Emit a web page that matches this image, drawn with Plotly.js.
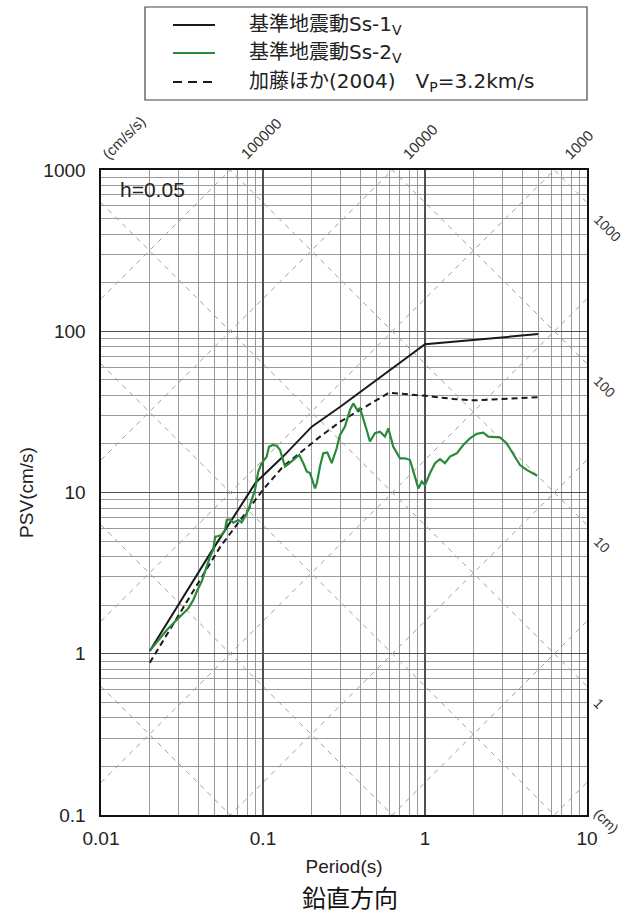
<!DOCTYPE html>
<html><head><meta charset="utf-8">
<script src="https://cdn.plot.ly/plotly-3.0.1.min.js"></script>
<style>html,body{margin:0;padding:0;background:#fff}#chart{width:624px;height:914px}</style>
</head><body><div id="chart"></div>
<script>
// ---- data ----
const periodSs1 = [0.02, 0.048, 0.09, 0.133, 0.2, 0.3, 1.0, 5.0];
const psvSs1    = [1.04, 4.3, 11.5, 16.7, 25.6, 34, 83, 96];

const periodSs2 = [0.0201,0.0254,0.030,0.0346,0.0371,0.039,0.0418,0.0449,0.0471,0.0493,0.0506,0.053,0.0555,0.0583,0.0597,0.0626,0.0656,0.0704,0.0738,0.0774,0.0811,0.0851,0.0893,0.0935,0.0981,0.1054,0.1089,0.1148,0.1214,0.1273,0.1367,0.1433,0.1538,0.1675,0.1774,0.1862,0.195,0.2045,0.2095,0.215,0.2248,0.2355,0.2496,0.2655,0.285,0.2985,0.3206,0.3443,0.3606,0.382,0.3973,0.4365,0.457,0.491,0.527,0.566,0.594,0.637,0.701,0.753,0.808,0.867,0.91,0.955,1.0,1.074,1.153,1.238,1.328,1.426,1.57,1.722,1.895,2.085,2.29,2.46,2.64,2.9,3.19,3.51,3.86,4.24,4.93];
const psvSs2    = [1.05,1.40,1.66,1.91,2.15,2.43,2.8,3.47,4.0,4.4,5.3,5.37,5.45,5.85,6.75,6.8,6.5,6.75,6.53,7.08,7.79,8.98,10.4,13.5,15.2,16.7,19.2,19.7,19.5,18.4,14.5,15.0,15.9,17.1,15.2,13.5,13.2,11.4,10.6,11.4,14.5,17.5,17.7,15.2,18.8,22.7,25.6,32.5,35.7,32.5,33.3,24.4,20.7,23.3,23.8,22.2,25.0,19.2,16.3,16.3,15.9,12.5,10.6,11.7,11.1,13.2,15.2,16.1,15.2,16.7,17.5,19.7,21.7,23.1,23.5,22.2,22.2,22.0,20.2,17.1,14.8,13.8,12.7];

const periodKato = [0.02, 0.0544, 0.1, 0.133, 0.225, 0.3, 0.6, 1.0, 1.5, 2.0, 3.0, 5.0];
const psvKato    = [0.88, 4.6, 10.4, 14.5, 22.2, 27.5, 41.6, 39.8, 38.0, 37.3, 38.0, 39.0];

const seriesNames = ['基準地震動Ss-1<sub>V</sub>', '基準地震動Ss-2<sub>V</sub>', '加藤ほか(2004)　V<sub>P</sub>=3.2km/s'];

// tripartite reference lines
const accelLevels = [0.1, 1, 10, 100, 1000, 10000, 100000];   // cm/s/s
const dispLevels  = [0.001, 0.01, 0.1, 1, 10, 100, 1000];     // cm
const accelLabelLevels = [100000, 10000, 1000];
const accelLabelText   = ['100000', '10000', '1000'];
const dispLabelLevels  = [1000, 100, 10, 1];
const dispLabelText    = ['1000', '100', '10', '1'];

const xTickVals = [0.01, 0.1, 1, 10];
const xTickText = ['0.01', '0.1', '1', '10'];
const yTickVals = [0.1, 1, 10, 100, 1000];
const yTickText = ['0.1', '1', '10', '100', '1000'];

// ---- build ----
const xRange = [-2, 1], yRange = [-1, 3];
const Tmin = Math.pow(10, xRange[0]), Tmax = Math.pow(10, xRange[1]);
const TWO_PI = 2 * Math.PI;
const diagStyle = {color: '#a0a0a0', width: 1, dash: '5px,5px'};
const traces = [];
accelLevels.forEach(sa => traces.push({
  type: 'scatter', mode: 'lines', x: [Tmin, Tmax], y: [sa * Tmin / TWO_PI, sa * Tmax / TWO_PI],
  line: diagStyle, hoverinfo: 'skip', showlegend: false
}));
dispLevels.forEach(sd => traces.push({
  type: 'scatter', mode: 'lines', x: [Tmin, Tmax], y: [TWO_PI * sd / Tmin, TWO_PI * sd / Tmax],
  line: diagStyle, hoverinfo: 'skip', showlegend: false
}));
const seriesStyles = [
  {color: '#1a1a1a', width: 2},
  {color: '#2a8a3c', width: 2.2},
  {color: '#1a1a1a', width: 2, dash: '6px,4px'}
];
traces.push({type: 'scatter', mode: 'lines', name: seriesNames[0], x: periodSs1, y: psvSs1, line: seriesStyles[0], showlegend: false});
traces.push({type: 'scatter', mode: 'lines', name: seriesNames[2], x: periodKato, y: psvKato, line: seriesStyles[2], showlegend: false});
traces.push({type: 'scatter', mode: 'lines', name: seriesNames[1], x: periodSs2, y: psvSs2, line: seriesStyles[1], showlegend: false});

const numFamily = 'Liberation Sans, Arial, sans-serif';
const numFont = {family: numFamily, size: 19, color: '#222'};
const jpFont = {family: 'DejaVu Sans, Noto Sans CJK JP, sans-serif', size: 20, color: '#222'};

const annotations = [];
const shapes = [];
// legend (manual box)
const L = 101, R = 587, T = 170, B = 815, W = R - L, H = B - T;
const px = v => (v - L) / W, py = v => (B - v) / H;
shapes.push({type: 'rect', xref: 'paper', yref: 'paper', x0: px(145), x1: px(587), y0: py(100), y1: py(7),
  line: {color: '#444', width: 1.2}, fillcolor: 'rgba(0,0,0,0)'});
const legendRowsY = [25, 53, 82];
const legendOrder = [0, 1, 2];
legendOrder.forEach((k, i) => {
  shapes.push({type: 'line', xref: 'paper', yref: 'paper', x0: px(173), x1: px(215), y0: py(legendRowsY[i]), y1: py(legendRowsY[i]),
    line: k === 2 ? {color: '#1a1a1a', width: 2, dash: '9px,6px'} : seriesStyles[k]});
  annotations.push({xref: 'paper', yref: 'paper', x: px(247), y: py(legendRowsY[i]), xanchor: 'left', yanchor: 'middle',
    text: seriesNames[k], showarrow: false, font: jpFont});
});
// damping label
annotations.push({xref: 'paper', yref: 'paper', x: px(118), y: py(189), xanchor: 'left', yanchor: 'middle',
  text: 'h=0.05', showarrow: false, font: {family: numFamily, size: 21, color: '#222'}});
// acceleration labels along the top
const diagFont = {family: numFamily, size: 15, color: '#333'};
const diagFontR = {family: numFamily, size: 14, color: '#333'};
accelLabelLevels.forEach((sa, i) => annotations.push({
  xref: 'x', yref: 'paper', x: Math.log10(TWO_PI * Math.pow(10, yRange[1]) / sa), y: 1,
  xanchor: 'left', yanchor: 'bottom', xshift: 4, yshift: 5, textangle: -45,
  text: accelLabelText[i], showarrow: false, font: diagFont}));
annotations.push({xref: 'paper', yref: 'paper', x: px(96), y: 1, xanchor: 'left', yanchor: 'bottom', yshift: 5, textangle: -45,
  text: '(cm/s/s)', showarrow: false, font: diagFont});
// displacement labels along the right
dispLabelLevels.forEach((sd, i) => annotations.push({
  xref: 'paper', yref: 'y', x: 1, y: Math.log10(TWO_PI * sd / Tmax),
  xanchor: 'left', yanchor: 'top', xshift: 1, yshift: -6, textangle: 45,
  text: dispLabelText[i], showarrow: false, font: diagFontR}));
annotations.push({xref: 'paper', yref: 'paper', x: 1, y: 0, xanchor: 'left', yanchor: 'top', xshift: 1, yshift: 12, textangle: 45,
  text: '(cm)', showarrow: false, font: diagFontR});

const axisCommon = {
  type: 'log', showline: true, linecolor: '#111', linewidth: 1.6, mirror: true,
  showgrid: true, gridcolor: '#505050', gridwidth: 1.3, zeroline: false,
  ticks: '', tickfont: numFont,
  minor: {dtick: 'D1', showgrid: true, gridcolor: '#8e8e8e', gridwidth: 0.9, ticks: ''}
};

const layout = {
  width: 624, height: 914,
  margin: {l: L, r: 624 - R, t: T, b: 914 - B},
  paper_bgcolor: '#fff', plot_bgcolor: '#fff',
  showlegend: false,
  title: {text: '鉛直方向', font: {family: 'Noto Sans CJK JP, sans-serif', size: 24, color: '#111'},
    xref: 'container', yref: 'container', x: 350 / 624, y: 1 - 899 / 914, xanchor: 'center', yanchor: 'middle'},
  xaxis: Object.assign({}, axisCommon, {range: xRange, tickvals: xTickVals, ticktext: xTickText, ticklabelstandoff: 6,
    title: {text: 'Period(s)', font: numFont, standoff: 11}}),
  yaxis: Object.assign({}, axisCommon, {range: yRange, tickvals: yTickVals, ticktext: yTickText, ticklabelstandoff: 10,
    title: {text: 'PSV(cm/s)', font: numFont, standoff: 4}}),
  shapes: shapes, annotations: annotations
};

Plotly.newPlot('chart', traces, layout, {staticPlot: true, displayModeBar: false});
</script></body></html>
